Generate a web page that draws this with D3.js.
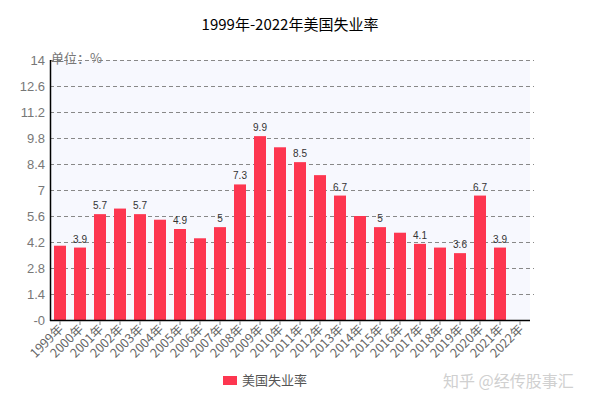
<!DOCTYPE html>
<html><head><meta charset="utf-8">
<script src="https://cdn.jsdelivr.net/npm/d3@7"></script>
<style>body{margin:0;background:#fff}</style>
</head><body>
<script>
const years = ["1999年","2000年","2001年","2002年","2003年","2004年","2005年","2006年","2007年","2008年","2009年","2010年","2011年","2012年","2013年","2014年","2015年","2016年","2017年","2018年","2019年","2020年","2021年","2022年"];
const rates = [4.0,3.9,5.7,6.0,5.7,5.4,4.9,4.4,5.0,7.3,9.9,9.3,8.5,7.8,6.7,5.6,5.0,4.7,4.1,3.9,3.6,6.7,3.9,null];
const labeledYears = ["2000年","2001年","2003年","2005年","2007年","2008年","2009年","2011年","2013年","2015年","2017年","2019年","2020年","2021年"];
const yTicks = [0,1.4,2.8,4.2,5.6,7,8.4,9.8,11.2,12.6,14];
const title = "1999年-2022年美国失业率";
const unitText = "单位：%";
const seriesName = "美国失业率";
const watermark = "知乎 @经传股事汇";

const W=610,H=406, L=50, R=530, T=60, B=320;
const svg=d3.select("body").append("svg").attr("width",W).attr("height",H);
const font="'Noto Sans CJK SC', 'DejaVu Sans', sans-serif";
const x=d3.scaleBand().domain(years).range([L,R]).paddingInner(0.4).paddingOuter(0.2);
const y=d3.scaleLinear().domain([0,14]).range([B,T]);
const red="#fd3650";

svg.append("rect").attr("x",L).attr("y",T).attr("width",R-L).attr("height",B-T).attr("fill","#f7f8fe");

svg.append("text").attr("x",290).attr("y",30).attr("text-anchor","middle").attr("font-family",font).attr("font-size",15).attr("fill","#000").text(title);

// grid
svg.append("g").selectAll("line").data(yTicks.filter(d=>d>0)).join("line")
 .attr("x1",L).attr("x2",R+4).attr("y1",d=>y(d)+0.5).attr("y2",d=>y(d)+0.5)
 .attr("stroke","#888").attr("stroke-dasharray","4,3").attr("stroke-width",1);

// y axis labels
svg.append("g").selectAll("text").data(yTicks).join("text")
 .attr("x",L-5).attr("y",d=>y(d)+5).attr("text-anchor","end").attr("font-family","'Liberation Sans', Arial, sans-serif").attr("font-size",13).attr("fill","#777")
 .text(d=>d===0?"-0":String(+d.toFixed(1)));
svg.append("text").attr("x",L+1).attr("y",y(14)+3).attr("font-family",font).attr("font-size",13).attr("fill","#777").text(unitText);

// bars
const data=years.map((c,i)=>({c,v:rates[i]})).filter(d=>d.v!=null);
svg.append("g").selectAll("rect").data(data).join("rect")
 .attr("x",d=>x(d.c)).attr("width",x.bandwidth()).attr("y",d=>y(d.v)).attr("height",d=>B-y(d.v)).attr("fill",red);

svg.append("g").selectAll("text").data(data.filter(d=>labeledYears.includes(d.c))).join("text")
 .attr("x",d=>x(d.c)+x.bandwidth()/2).attr("y",d=>y(d.v)-5).attr("text-anchor","middle")
 .attr("font-family","'Liberation Sans', Arial, sans-serif").attr("font-size",10).attr("fill","#333").text(d=>d.v);

// axes lines
svg.append("line").attr("x1",L+0.5).attr("x2",L+0.5).attr("y1",T).attr("y2",B+1).attr("stroke","#000").attr("stroke-width",1.5);
svg.append("line").attr("x1",L).attr("x2",R).attr("y1",B+0.5).attr("y2",B+0.5).attr("stroke","#000").attr("stroke-width",1.5);
svg.append("g").selectAll("line").data(years).join("line")
 .attr("x1",d=>x(d)+x.bandwidth()/2).attr("x2",d=>x(d)+x.bandwidth()/2).attr("y1",B+1).attr("y2",B+5).attr("stroke","#888");

// x labels
svg.append("g").selectAll("text").data(years).join("text")
 .attr("transform",d=>`translate(${x(d)+x.bandwidth()/2+4},${B+10}) rotate(-45)`)
 .attr("text-anchor","end").attr("font-family",font).attr("font-size",12.5).attr("fill","#666").text(d=>d);

// legend
svg.append("rect").attr("x",223).attr("y",376).attr("width",14).attr("height",9).attr("fill",red);
svg.append("text").attr("x",242).attr("y",385).attr("font-family",font).attr("font-size",13).attr("fill","#555").text(seriesName);

// watermark
svg.append("text").attr("x",443).attr("y",387).attr("font-family",font).attr("font-size",16).attr("fill","#d0d0d0").text(watermark);
</script>
</body></html>
